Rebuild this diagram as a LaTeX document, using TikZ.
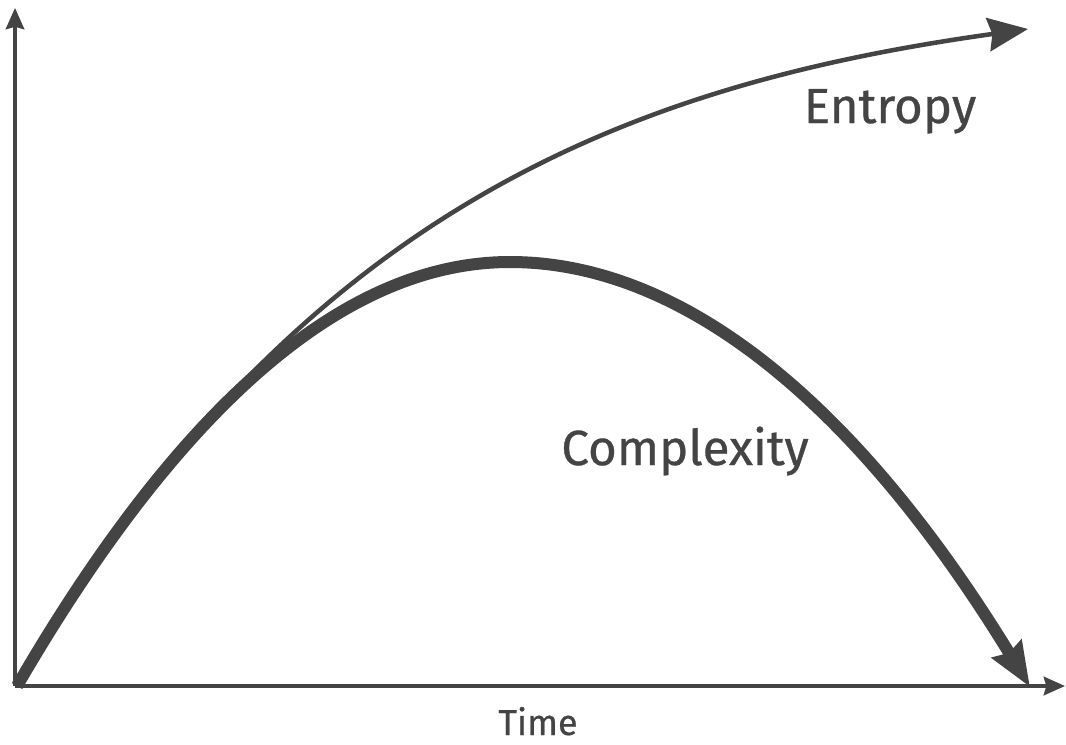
\documentclass[tikz,border=0pt]{standalone}
\usepackage{fontspec}
\setmainfont{Fira Sans}
\newfontfamily\labfont[FakeBold=0.6]{Fira Sans}
\usetikzlibrary{arrows.meta}
\definecolor{ink}{RGB}{68,68,68}
\tikzset{
  axisline/.style={draw=ink, line width=2.4pt, -{Stealth[length=16pt,width=14pt,inset=2pt]}},
  entropyline/.style={draw=ink, line width=3.4pt, -{Stealth[length=30pt,width=25pt,inset=3pt]}},
  complexline/.style={draw=ink, line width=9pt, -{Stealth[length=33pt,width=25pt,inset=3pt]}},
  biglabel/.style={text=ink, inner sep=0pt, anchor=base, font=\labfont\fontsize{37}{40}\selectfont},
  smalllabel/.style={text=ink, inner sep=0pt, anchor=base, font=\labfont\fontsize{27}{30}\selectfont}
}
\begin{document}
\begin{tikzpicture}[x=0.75pt, y=-0.75pt]
\useasboundingbox (0,0) rectangle (1066,744);
\coordinate (O) at (15,686);
\coordinate (S) at (17,686);
\coordinate (ytip) at (15,8);
\coordinate (xtip) at (1065,686);
\coordinate (peak) at (510,262);
\coordinate (cend) at (1030,687);
\coordinate (eend) at (1028,29);
% axes
\draw[axisline] (O) -- (ytip);
\draw[axisline] (O) -- (xtip);
% entropy
\draw[entropyline] (S) .. controls (294,210) and (628,85) .. (eend);
% complexity
\draw[complexline] (S) .. controls (181.3,403.3) and (345.7,262) .. (peak)
   .. controls (683.3,262) and (856.7,403.7) .. (cend);
% labels
\node[biglabel] (entropy) at (890,123) {Entropy};
\node[biglabel] (complexity) at (685,465) {Complexity};
\node[smalllabel] (time) at (538,735) {Time};
\end{tikzpicture}
\end{document}
